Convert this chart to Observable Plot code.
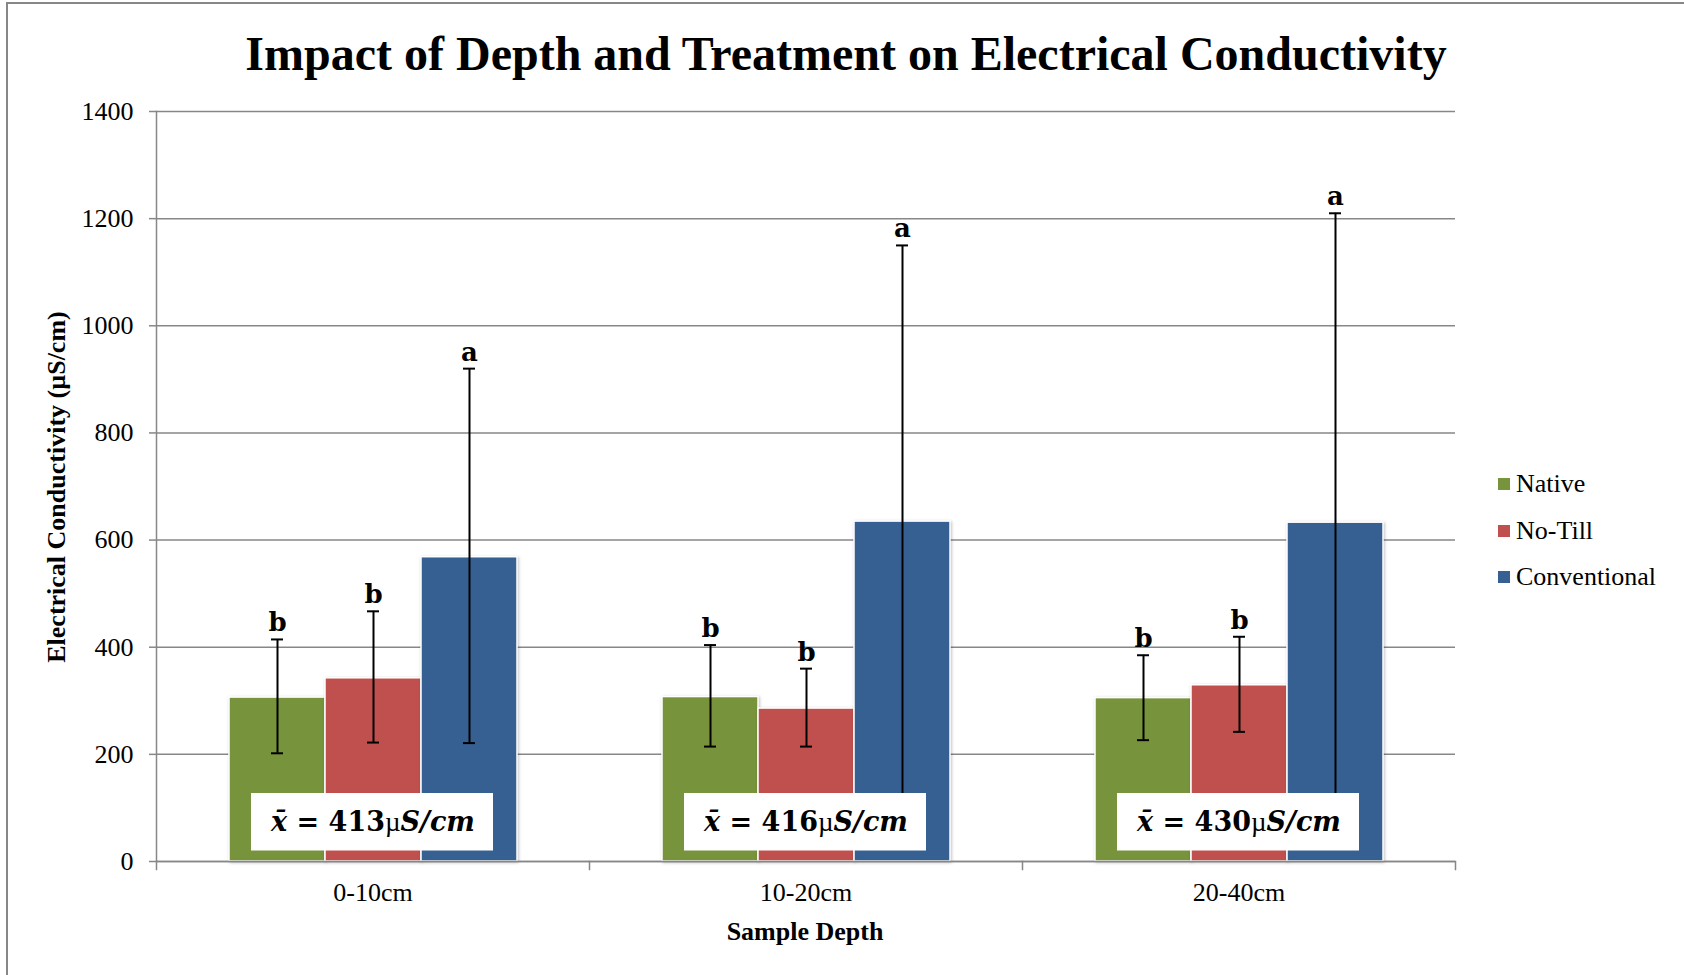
<!DOCTYPE html>
<html>
<head>
<meta charset="utf-8">
<script src="https://cdn.jsdelivr.net/npm/d3@7"></script>
<script src="https://cdn.jsdelivr.net/npm/@observablehq/plot@0.6"></script>
<style>
  html, body { margin: 0; padding: 0; background: #fff; overflow: hidden; }
  #wrap { position: relative; width: 1684px; height: 975px; font-family: "Liberation Serif", "Times New Roman", serif; color: #000; }
  #border { position: absolute; left: 6px; top: 2px; right: -10px; bottom: -10px; border-left: 2px solid #878787; border-top: 2px solid #878787; }
  #title { position: absolute; left: 0; width: 1692px; top: 30px; line-height: 48px; font-size: 48px; font-weight: bold; text-align: center; white-space: nowrap; }
  #ylabel { position: absolute; left: 57px; top: 487px; transform: translate(-50%, -50%) rotate(-90deg); font-size: 26px; font-weight: bold; white-space: nowrap; line-height: 26px; }
  #xlabel { position: absolute; left: 0; width: 1610px; top: 919px; font-size: 26px; font-weight: bold; text-align: center; line-height: 26px; }
  #legend { position: absolute; left: 1498px; top: 0; }
  .lg { position: absolute; left: 0; white-space: nowrap; font-size: 26px; line-height: 26px; }
  .lg span.sw { display: inline-block; width: 12px; height: 12px; margin-right: 6px; vertical-align: 2px; }
  #chart { position: absolute; left: 0; top: 0; }
  g.bars rect { filter: drop-shadow(1.5px 1.5px 1.5px rgba(0,0,0,0.25)); }
</style>
</head>
<body>
<div id="wrap">
  <div id="border"></div>
  <div id="chart"></div>
  <div id="title">Impact of Depth and Treatment on Electrical Conductivity</div>
  <div id="ylabel">Electrical Conductivity (µS/cm)</div>
  <div id="xlabel">Sample Depth</div>
  <div id="legend"></div>
</div>
<script>
// ---- data ----
const depths = ["0-10cm", "10-20cm", "20-40cm"];
const treatments = ["Native", "No-Till", "Conventional"];
const colors = ["#77933C", "#C0504D", "#376092"];

const nativeMean = [306, 307, 305];
const nativeLow = [202, 214.5, 226.5];
const nativeHigh = [414.5, 404, 385];
const nativeLetter = ["b", "b", "b"];

const noTillMean = [342, 285.5, 329];
const noTillLow = [222, 214.5, 242];
const noTillHigh = [467, 360, 419.5];
const noTillLetter = ["b", "b", "b"];

const conventionalMean = [568, 634.5, 632.5];
const conventionalLow = [221, 120, 55];
const conventionalHigh = [920, 1150, 1210];
const conventionalLetter = ["a", "a", "a"];

const depthMeans = [413, 416, 430];
const yTicks = [0, 200, 400, 600, 800, 1000, 1200, 1400];

// ---- build table ----
const series = {
  "Native": [nativeMean, nativeLow, nativeHigh, nativeLetter],
  "No-Till": [noTillMean, noTillLow, noTillHigh, noTillLetter],
  "Conventional": [conventionalMean, conventionalLow, conventionalHigh, conventionalLetter]
};
const rows = [];
depths.forEach((dep, i) => {
  treatments.forEach(t => {
    const [m, lo, hi, let_] = series[t];
    rows.push({depth: dep, treatment: t, value: m[i], lo: lo[i], hi: hi[i], letter: let_[i]});
  });
});
const meanRows = depths.map((dep, i) => ({depth: dep, mean: depthMeans[i]}));

const W = 1684, H = 975;
const mT = 111, mB = 114, mL = 155, mR = 229;
const innerH = H - mT - mB;
const gray = "#878787";

const plot = Plot.plot({
  width: W, height: H,
  marginTop: mT, marginBottom: mB, marginLeft: mL, marginRight: mR,
  style: {fontFamily: "'Liberation Serif', 'Times New Roman', serif", fontSize: "26px", color: "#000", background: "transparent", overflow: "visible"},
  fx: {domain: depths, padding: 0, label: null, axis: null},
  x: {domain: treatments, paddingInner: 0, paddingOuter: 0.74, axis: null},
  y: {domain: [0, 1400], label: null, axis: null},
  color: {domain: treatments, range: colors},
  marks: [
    Plot.gridY(yTicks, {stroke: gray, strokeOpacity: 1, strokeWidth: 1.5}),
    Plot.axisY(yTicks, {tickSize: 7, tickPadding: 16, stroke: gray, strokeWidth: 1.5, label: null, fontSize: 26, tickFormat: d => String(d)}),
    Plot.axisFx({anchor: "bottom", tickSize: 0, tickPadding: 21, label: null, fontSize: 26}),
    Plot.barY(rows, {fx: "depth", x: "treatment", y: "value", fill: "treatment", stroke: "white", strokeWidth: 1.5, className: "bars"}),
    Plot.ruleX(rows, {fx: "depth", x: "treatment", y1: "lo", y2: "hi", stroke: "#000", strokeWidth: 2}),
    Plot.tickY(rows, {fx: "depth", x: "treatment", y: "hi", stroke: "#000", strokeWidth: 2, insetLeft: 42, insetRight: 42}),
    Plot.tickY(rows, {fx: "depth", x: "treatment", y: "lo", stroke: "#000", strokeWidth: 2, insetLeft: 42, insetRight: 42}),
    Plot.text(rows, {fx: "depth", x: "treatment", y: "hi", text: "letter", dy: -8, lineAnchor: "bottom",
      fontFamily: "'DejaVu Serif', serif", fontWeight: "bold", fontSize: 26, fill: "#000"}),
    Plot.rect(meanRows, {fx: "depth", fill: "white", insetLeft: 95, insetRight: 96, insetTop: innerH - 68, insetBottom: 10.5}),
    Plot.text(meanRows, {fx: "depth", text: d => String(d.mean), frameAnchor: "bottom", dy: -31, className: "meanlabel",
      fontFamily: "'DejaVu Serif', serif", fontWeight: "bold", fontSize: 27, fill: "#000"}),
    Plot.ruleY([0], {stroke: gray, strokeWidth: 1.5}),
    Plot.frame({anchor: "left", facetAnchor: "left", stroke: gray, strokeWidth: 1.5}),
    Plot.frame({anchor: "left", stroke: gray, strokeWidth: 1.5, insetTop: innerH, insetBottom: -8}),
    Plot.frame({anchor: "right", facetAnchor: "right", stroke: gray, strokeWidth: 1.5, insetTop: innerH, insetBottom: -8})
  ]
});
document.getElementById("chart").appendChild(plot);

// mean label rich text: x̄ = NNNµS/cm
d3.select(plot).selectAll("g.meanlabel text").each(function() {
  const v = this.textContent;
  const t = d3.select(this).text("");
  t.append("tspan").attr("font-style", "italic").text("x\u0304");
  t.append("tspan").text(" = " + v);
  t.append("tspan").attr("font-weight", "normal").attr("font-family", "'Liberation Serif', serif").text("\u00b5");
  t.append("tspan").attr("font-style", "italic").text("S/cm");
});

// legend
const legend = document.getElementById("legend");
const legendY = [484, 530.5, 577];
treatments.forEach((t, i) => {
  const item = document.createElement("div");
  item.className = "lg";
  item.style.top = (legendY[i] - 13) + "px";
  item.innerHTML = `<span class="sw" style="background:${colors[i]}"></span>${t}`;
  legend.appendChild(item);
});
</script>
</body>
</html>
